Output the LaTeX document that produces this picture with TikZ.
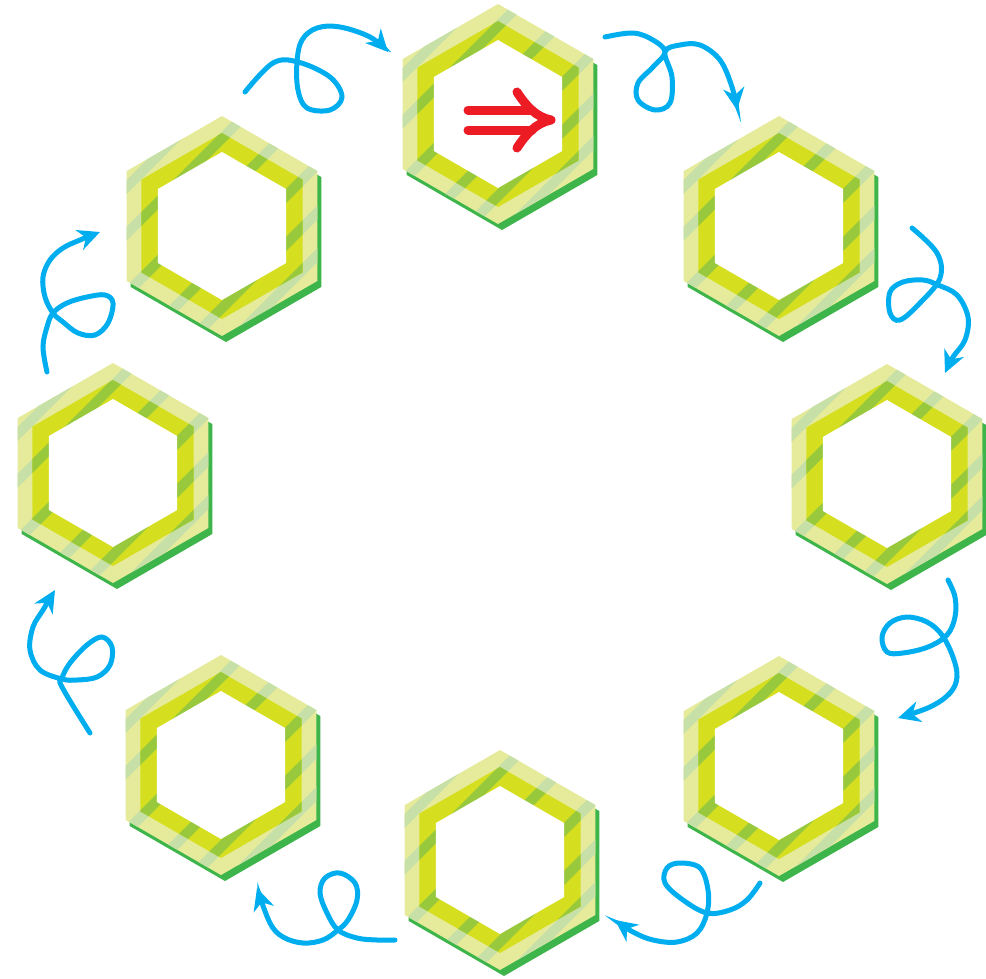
\documentclass[tikz,border=0pt]{standalone}
\usetikzlibrary{arrows.meta}
\definecolor{hexlight}{HTML}{E6EB9B}
\definecolor{hexbright}{HTML}{D5DF20}
\definecolor{hexshadow}{HTML}{3DB54A}
\definecolor{stripepale}{HTML}{C6E0A8}
\definecolor{stripedark}{HTML}{98C93C}
\definecolor{loopblue}{HTML}{00AEEF}
\definecolor{markred}{HTML}{ED1C24}
\def\hexpath#1{(90:#1)--(150:#1)--(210:#1)--(270:#1)--(330:#1)--(30:#1)--cycle}
\newcommand{\hexcell}[3]{%
  \coordinate (#1) at (#2,#3);
  \begin{scope}[shift={(#2,#3)}]
    \fill[hexshadow, shift={(4,6)}] \hexpath{110};
    \fill[hexlight] \hexpath{110};
    \begin{scope}
      \clip \hexpath{110};
      \foreach \t in {-95,-62,-20,24,58,88}
        \draw[stripepale, line width=10pt] (\t*0.7071-110,\t*0.7071+110) -- ++(220,-220);
    \end{scope}
    \fill[hexbright] \hexpath{93};
    \begin{scope}
      \clip \hexpath{93};
      \foreach \t in {-95,-62,-20,24,58,88}
        \draw[stripedark, line width=10pt] (\t*0.7071-110,\t*0.7071+110) -- ++(220,-220);
    \end{scope}
    \fill[white] \hexpath{74};
  \end{scope}}
\tikzset{
  looparrow/.style={draw=loopblue, line width=5pt, line cap=round,
    -{Stealth[length=22pt,width=21pt,inset=7pt]}},
  redmark/.style={draw=markred, line width=9pt, line cap=round}
}
\begin{document}
\begin{tikzpicture}[x=1pt,y=-1pt]
\useasboundingbox (0,0) rectangle (986,978);
\foreach \n/\x/\y in {htop/498/114, hur/779/226, hr/887/474, hlr/779/766,
                      hbot/500/860, hll/221/765, hl/113/473, hul/222/226}
  {\hexcell{\n}{\x}{\y}}
% red double arrow in top hexagon
\coordinate (rA) at (468,110);
\coordinate (rB) at (468,130);
\coordinate (rT) at (551,120);
\draw[redmark] (rA) -- ++(64,0);
\draw[redmark] (rB) -- ++(64,0);
\draw[redmark, line join=round] (517,92) .. controls (526,106) and (536,117) .. (rT)
               .. controls (536,123) and (526,134) .. (517,148);
% loop arrows
\draw[looparrow] plot[smooth, tension=0.6] coordinates {(245,92) (273,63) (298,62) (330,77) (342,97) (330,110) (307,108) (298,90) (297,62) (302,40) (317,28) (340,27) (370,37) (388,52)};
\draw[looparrow] plot[smooth, tension=0.6] coordinates {(605,37) (633,33) (653,40) (665,52) (653,67) (638,83) (638,100) (655,110) (670,103) (672,77) (665,52) (680,45) (700,45) (720,60) (732,87) (737,110)};
\draw[looparrow] plot[smooth, tension=0.6] coordinates {(912,228) (937,253) (940,278) (920,303) (900,320) (890,313) (890,292) (903,282) (923,280) (938,285) (957,295) (968,317) (965,340) (953,357) (945,373)};
\draw[looparrow] plot[smooth, tension=0.6] coordinates {(948,580) (955,597) (955,617) (947,635) (928,647) (903,653) (887,652) (882,637) (890,623) (907,617) (927,622) (942,635) (953,657) (957,677) (950,693) (930,707) (898,718)};
\draw[looparrow] plot[smooth, tension=0.6] coordinates {(760,883) (747,900) (730,910) (707,913) (683,900) (665,883) (667,868) (680,863) (700,868) (708,890) (707,913) (697,933) (677,942) (653,940) (633,932) (615,920)};
\draw[looparrow] plot[smooth, tension=0.6] coordinates {(395,940) (377,940) (357,938) (338,930) (327,913) (320,893) (325,878) (340,873) (355,883) (357,900) (348,920) (338,930) (323,940) (303,943) (283,937) (270,923) (257,888)};
\draw[looparrow] plot[smooth, tension=0.6] coordinates {(90,733) (62,687) (62,678) (70,663) (87,645) (102,637) (112,647) (110,665) (97,677) (77,680) (62,679) (40,670) (30,650) (33,627) (43,610) (55,590)};
\draw[looparrow] plot[smooth, tension=0.6] coordinates {(47,372) (43,347) (47,327) (53,313) (67,303) (87,297) (105,295) (113,303) (108,323) (95,335) (78,333) (63,322) (53,313) (45,297) (43,277) (50,260) (63,248) (80,240) (100,232)};
\end{tikzpicture}
\end{document}
